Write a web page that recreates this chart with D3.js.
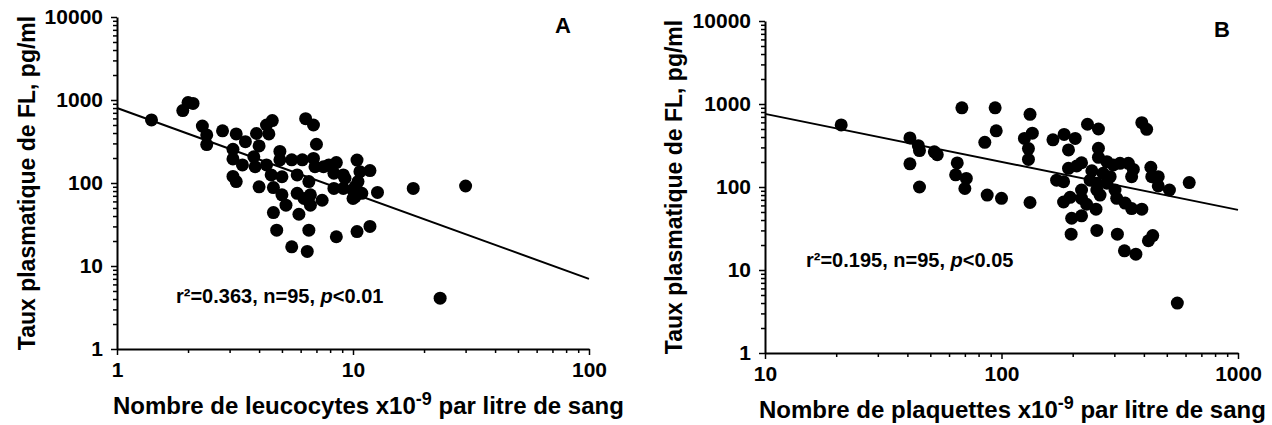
<!DOCTYPE html>
<html><head><meta charset="utf-8">
<script src="https://cdn.jsdelivr.net/npm/d3@7"></script>
<style>
body{margin:0;background:#fff;}
svg text{font-family:Arial,"Liberation Sans",sans-serif;font-weight:bold;fill:#000;}
</style></head><body>
<svg id="c" width="1272" height="425"></svg>
<script>
// Panel A: leucocytes (x10^9/L) vs plasma FL (pg/ml)
const leucocytes=[1.4,1.9,2.0,2.1,2.3,2.4,2.4,2.8,3.2,3.1,3.1,3.5,3.4,3.1,3.2,3.9,4.0,3.8,3.85,4.3,4.55,4.4,4.3,4.0,4.5,4.9,4.9,5.0,4.6,5.0,5.2,4.6,4.75,5.5,5.8,6.1,6.3,6.8,7.0,6.8,6.5,5.8,6.2,6.6,6.6,7.4,5.9,6.5,5.5,6.4,7.5,7.9,8.5,9.1,8.3,8.5,10.4,10.2,10.2,10.4,6.9,8.3,9.25,9.1,10.7,11.8,10.5,10.0,10.0,10.9,12.7,18,30,11.8,23.4];
const flA=[575,745,930,910,485,380,290,425,390,255,195,315,165,120,104,395,280,207,157,500,565,390,165,90,125,240,190,119,88,72,54,44,27,190,125,190,595,500,293,198,104,75,65,72,54,62,42,27,17,15,157,165,176,125,86,22.5,189,90,68,26,157,131,114,86,137,141,104,82,65,75,77,86,92,30,4.1];
// Panel B: plaquettes (x10^9/L) vs plasma FL (pg/ml)
const plaquettes=[21,41,44.5,45,52,53.5,41,45,65,64,71,70,68,94,95,85,87,100,132,125,135,130,130,132,165,184,205,192,231,257,257,257,192,208,218,171,183,241,237,253,279,297,317,344,361,355,288,269,279,253,261,218,218,195,183,229,251,302,307,333,355,392,392,411,428,432,460,460,513,622,218,198,197,253,309,436,418,331,370,554];
const flB=[560,390,315,275,265,245,190,100,195,140,127,96,900,900,475,345,80,73,750,385,445,290,215,65,370,430,385,280,570,500,293,228,168,179,196,121,116,157,121,111,202,184,193,193,163,133,133,146,111,92,80,92,73,75,66,62,54,92,73,64,55,54,595,495,173,133,133,103,92,113,45,42,27,30,27,26,22.5,17,15.5,4];
// regression lines (endpoints)
const fitAx=[1,100], fitAy=[800,7];
const fitBx=[10,1000], fitBy=[760,53];
// tick labels
const yTickLabels=[1,10,100,1000,10000];
const xTickLabelsA=[1,10,100];
const xTickLabelsB=[10,100,1000];
const statsA="r²=0.363, n=95, ", pA="<0.01";
const statsB="r²=0.195, n=95, ", pB="<0.05";

const svg=d3.select("#c");

function logTicks(lo,hi){const t=[];for(let e=Math.round(Math.log10(lo));e<Math.round(Math.log10(hi));e++){for(let k=1;k<10;k++)t.push(k*Math.pow(10,e));}t.push(hi);return t;}

function panel(o){
  const x=d3.scaleLog().domain(o.xd).range(o.xr);
  const y=d3.scaleLog().domain([1,10000]).range(o.yr);
  const g=svg.append("g");
  const isDec=(d,set)=>set.includes(d);
  // y axis
  const ya=g.append("g").attr("transform",`translate(${o.xr[0]},0)`)
    .call(d3.axisLeft(y).tickValues(logTicks(1,10000)).tickFormat(d=>isDec(d,yTickLabels)?d:"").tickSize(6).tickPadding(8).tickSizeOuter(0));
  ya.selectAll(".tick line").attr("x2",d=>isDec(d,yTickLabels)?-6:-4).attr("stroke-width",1.5);
  ya.select(".domain").attr("stroke-width",2);
  ya.selectAll("text").style("font-size","21px").style("font-family","Arial, 'Liberation Sans', sans-serif").style("font-weight","bold");
  // x axis
  const xa=g.append("g").attr("transform",`translate(0,${o.yr[0]})`)
    .call(d3.axisBottom(x).tickValues(logTicks(o.xd[0],o.xd[1])).tickFormat(d=>isDec(d,o.xl)?d:"").tickSize(6).tickPadding(7).tickSizeOuter(0));
  xa.selectAll(".tick line").attr("y2",d=>isDec(d,o.xl)?6:4).attr("stroke-width",1.5);
  xa.select(".domain").attr("stroke-width",2);
  xa.selectAll("text").style("font-size","21px").style("font-family","Arial, 'Liberation Sans', sans-serif").style("font-weight","bold");
  // fit line
  const line=d3.line().x(d=>x(d[0])).y(d=>y(d[1]));
  g.append("path").attr("d",line(d3.zip(o.fx,o.fy))).attr("fill","none").attr("stroke","#000").attr("stroke-width",2);
  // points
  g.append("g").selectAll("circle").data(d3.zip(o.xs,o.ys)).join("circle")
    .attr("cx",d=>x(d[0])).attr("cy",d=>y(d[1])).attr("r",6.5).attr("fill","#000");
  // axis titles
  const t=g.append("text").attr("x",o.xtx).attr("y",o.xty).style("font-size","24px");
  t.append("tspan").text(o.xtitle);
  t.append("tspan").attr("dy",-9).style("font-size","18px").text("-9");
  t.append("tspan").attr("dy",9).text(" par litre de sang");
  g.append("text").attr("transform",`translate(${o.ytx},${o.yty}) rotate(-90)`).attr("text-anchor","middle").style("font-size","23px").text("Taux plasmatique de FL, pg/ml");
  // stats
  const s=g.append("text").attr("x",o.sx).attr("y",o.sy).style("font-size","20px");
  s.append("tspan").text(o.stats);
  s.append("tspan").style("font-style","italic").text("p");
  s.append("tspan").text(o.p);
  // letter
  g.append("text").attr("x",o.lx).attr("y",o.ly).attr("text-anchor","middle").style("font-size","22px").text(o.letter);
}

panel({xd:[1,100],xr:[117,589],yr:[349,17],xl:xTickLabelsA,xs:leucocytes,ys:flA,fx:fitAx,fy:fitAy,
  xtitle:"Nombre de leucocytes x10",xtx:113,xty:414,ytx:35,yty:183,stats:statsA,p:pA,sx:176,sy:303,letter:"A",lx:563,ly:33});
panel({xd:[10,1000],xr:[765,1238],yr:[353,21],xl:xTickLabelsB,xs:plaquettes,ys:flB,fx:fitBx,fy:fitBy,
  xtitle:"Nombre de plaquettes x10",xtx:759,xty:418,ytx:682,yty:187,stats:statsB,p:pB,sx:806,sy:267,letter:"B",lx:1222,ly:37});
</script>
</body></html>
